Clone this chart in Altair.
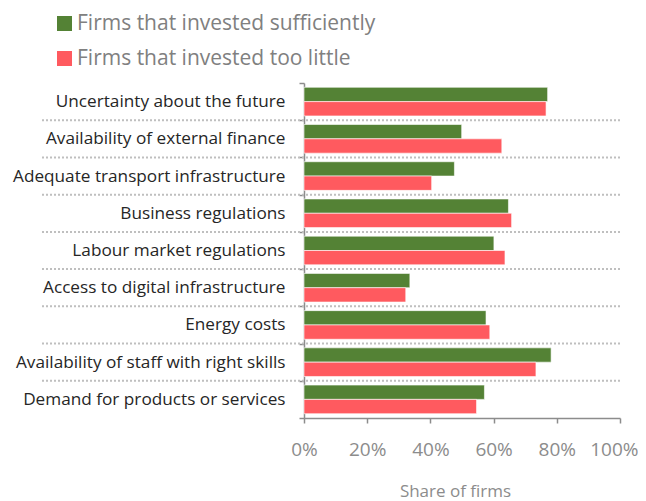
import altair as alt
import pandas as pd

categories = [
    "Uncertainty about the future",
    "Availability of external finance",
    "Adequate transport infrastructure",
    "Business regulations",
    "Labour market regulations",
    "Access to digital infrastructure",
    "Energy costs",
    "Availability of staff with right skills",
    "Demand for products or services",
]
series = ["Firms that invested sufficiently", "Firms that invested too little"]
sufficient = [77.1, 49.9, 47.6, 64.7, 60.1, 33.5, 57.6, 78.2, 57.1]
too_little = [76.6, 62.6, 40.4, 65.7, 63.6, 32.2, 58.8, 73.4, 54.6]
colors = ["#548235", "#FF5A5F"]
x_ticks = [0, 0.2, 0.4, 0.6, 0.8, 1.0]

rows = []
for c, a, b in zip(categories, sufficient, too_little):
    rows.append({"cat": c, "series": series[0], "share": a / 100})
    rows.append({"cat": c, "series": series[1], "share": b / 100})
df = pd.DataFrame(rows)
sep = pd.DataFrame({"cat": categories[:-1]})

FONT = "Open Sans"

y_axis = alt.Axis(
    title=None, tickBand="extent", domainColor="#8C8C8C", domainWidth=1.5,
    tickColor="#8C8C8C", tickWidth=1.5, tickSize=5, labelFontSize=17.2,
    labelColor="#262626", labelFont=FONT, labelPadding=14, labelLimit=400,
)
y_scale = alt.Scale(domain=categories, paddingInner=0, paddingOuter=0)

bars = alt.Chart(df).mark_bar(stroke="white", strokeWidth=0.6).encode(
    x=alt.X(
        "share:Q",
        scale=alt.Scale(domain=[0, 1], nice=False),
        axis=alt.Axis(
            values=x_ticks, format=".0%", title="Share of firms", grid=False,
            domainColor="#8C8C8C", domainWidth=1.5, tickColor="#8C8C8C", tickWidth=1.5,
            tickSize=5, labelFontSize=19, labelColor="#8C8C8C", labelFont=FONT,
            labelPadding=17, titleFont=FONT, titleFontSize=17, titleFontWeight="normal",
            titleColor="#8C8C8C", titlePadding=24, labelFlush=False,
            titleX=151, titleAlign="center",
            labelAlign=alt.expr("datum.value == 1 ? 'right' : 'center'"),
            labelOffset=alt.expr("datum.value == 1 ? 18 : 0"),
        ),
    ),
    y=alt.Y("cat:N", scale=y_scale, axis=y_axis),
    yOffset=alt.YOffset(
        "series:N", scale=alt.Scale(domain=series, paddingOuter=0.3, paddingInner=0)
    ),
    color=alt.Color(
        "series:N",
        scale=alt.Scale(domain=series, range=colors),
        legend=alt.Legend(
            title=None, orient="none", legendX=-250, legendY=-70, symbolType="square",
            symbolSize=225, symbolStrokeWidth=0, labelFontSize=21, labelColor="#808080",
            labelFont=FONT, labelOffset=2, rowPadding=13, padding=0, labelLimit=500,
        ),
    ),
)

rules = alt.Chart(sep).mark_rule(strokeDash=[2, 2], color="#BFBFBF", strokeWidth=2).encode(
    y=alt.Y("cat:N", scale=y_scale, bandPosition=1, axis=y_axis),
    x=alt.value(-262),
    x2=alt.value(316),
)

chart = alt.layer(bars, rules).properties(
    width=316,
    height=335,
    padding={"left": 296, "top": 75, "right": 18, "bottom": 90},
    autosize=alt.AutoSizeParams(type="none"),
).configure_view(stroke=None)

chart.save("out.html", embed_options={"renderer": "svg", "actions": False})
